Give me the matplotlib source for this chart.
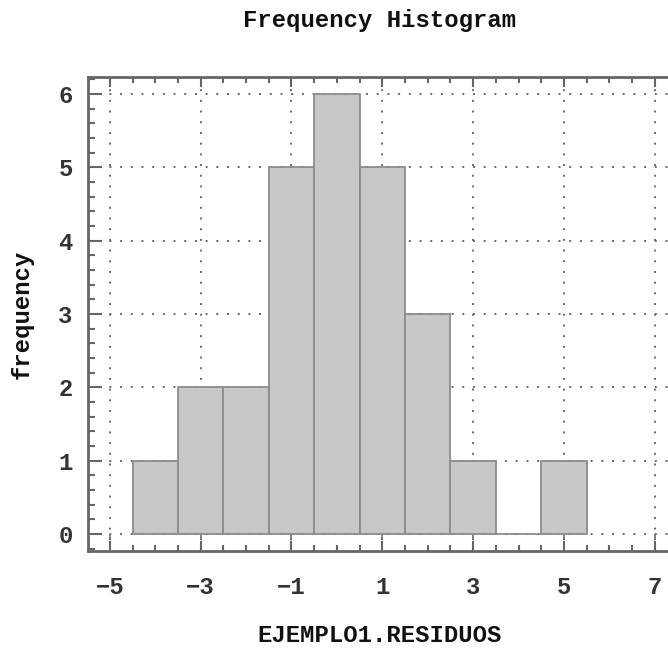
import numpy as np
import matplotlib
matplotlib.use("Agg")
import matplotlib.pyplot as plt
from matplotlib.ticker import MultipleLocator, FixedLocator

# data
bin_centers = [-4, -3, -2, -1, 0, 1, 2, 3, 4, 5]
counts = [1, 2, 2, 5, 6, 5, 3, 1, 0, 1]
bin_width = 1.0
x_ticks = [-5, -3, -1, 1, 3, 5, 7]
y_ticks = [0, 1, 2, 3, 4, 5, 6]
title = "Frequency Histogram"
xlabel = "EJEMPLO1.RESIDUOS"
ylabel = "frequency"

FONT = "Liberation Mono"
FS = 17.2
spine_c = "#666666"

fig = plt.figure(figsize=(6.68, 6.48), dpi=100)
ax = fig.add_axes([88/668, 1 - 551/648, 1 - 88/668, (551 - 77)/648])

ax.set_xlim(-5.48, 7.29)
ax.set_ylim(-0.23, 6.23)

ax.set_axisbelow(True)
ax.grid(True, which="major", linestyle=(0, (1, 4.5)), linewidth=1.4, color="#6a6a6a")

ax.bar(bin_centers, counts, width=bin_width, color="#c8c8c8",
       edgecolor="#8c8c8c", linewidth=1.3, zorder=2)
# small marks at y=0 on major x positions
ax.vlines(x_ticks, -0.06, 0, color="#777777", linewidth=1.3, zorder=1)

ax.xaxis.set_major_locator(FixedLocator(x_ticks))
ax.xaxis.set_minor_locator(MultipleLocator(0.5))
ax.yaxis.set_major_locator(FixedLocator(y_ticks))
ax.yaxis.set_minor_locator(MultipleLocator(0.2))

ax.set_xticklabels(["\u22125", "\u22123", "\u22121", "1", "3", "5", "7"])

ax.tick_params(axis="both", which="both", direction="in", color=spine_c, width=1.5,
               labelcolor="#333333")
ax.tick_params(axis="x", which="major", length=7, top=True, pad=18)
ax.tick_params(axis="x", which="minor", length=4, top=True)
ax.tick_params(axis="y", which="major", length=10, pad=11)
ax.tick_params(axis="y", which="minor", length=5)
for lab in ax.get_xticklabels() + ax.get_yticklabels():
    lab.set_fontfamily(FONT)
    lab.set_fontweight("bold")
    lab.set_fontsize(FS)

for s in ["left", "bottom", "top"]:
    ax.spines[s].set_color(spine_c)
    ax.spines[s].set_linewidth(2)
ax.spines["right"].set_visible(False)

fig.text(380/668, 1 - 20/648, title, ha="center", va="center",
         fontfamily=FONT, fontweight="bold", fontsize=FS, color="#111111")
fig.text(380/668, 1 - 636/648, xlabel, ha="center", va="center",
         fontfamily=FONT, fontweight="bold", fontsize=FS, color="#111111")
fig.text(22/668, 1 - 314/648, ylabel, ha="center", va="center", rotation=90,
         fontfamily=FONT, fontweight="bold", fontsize=FS, color="#111111")

fig.savefig("out.png", dpi=100)
